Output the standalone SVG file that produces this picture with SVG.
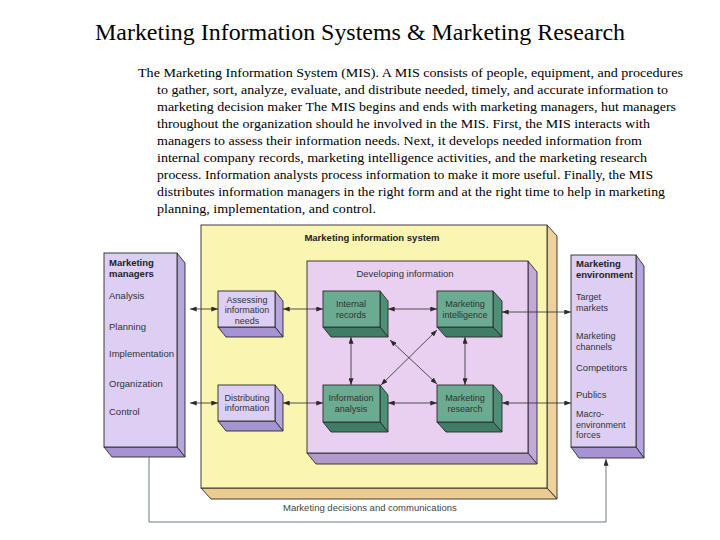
<svg xmlns="http://www.w3.org/2000/svg" width="720" height="540" viewBox="0 0 720 540">
<defs>
<style>
.title{font-family:"Liberation Sans",Arial,sans-serif}
.title{font-family:"Liberation Serif","Times New Roman",serif;font-size:23.5px;fill:#000}
.para{font-family:"Liberation Serif","Times New Roman",serif;font-size:13.3px;fill:#000}
.lbl{font-family:"Liberation Sans",Arial,sans-serif;font-size:9.5px;fill:#333}
.sm{font-size:9px}
.lblc{font-family:"Liberation Sans",Arial,sans-serif;font-size:9px;fill:#333;text-anchor:middle}
.hd{font-family:"Liberation Sans",Arial,sans-serif;font-size:9.5px;fill:#222;font-weight:bold}
.edge{stroke:#2a2a2a;stroke-width:0.9}
.conn{stroke:#2a2a2a;stroke-width:0.8;fill:none}
.lav{fill:#dccff3}.lavR{fill:#b6a5de}.lavB{fill:#a593d4}
.grn{fill:#6aab91}.grnR{fill:#4f8f77}.grnB{fill:#3f7d66}
.yel{fill:#faf6b2}.yelR{fill:#eed29a}.yelB{fill:#ebcb92}
.pnk{fill:#e9cff0}.pnkR{fill:#c3a9d9}.pnkB{fill:#b29acd}
</style>
<marker id="ah" viewBox="0 0 8 6" refX="8" refY="3" markerWidth="7" markerHeight="5" orient="auto-start-reverse" markerUnits="userSpaceOnUse">
<path d="M0,0 L8,3 L0,6 Z" fill="#2a2a2a"/>
</marker>
</defs>
<rect width="720" height="540" fill="#fff"/>

<text class="title" x="95" y="40" textLength="530" lengthAdjust="spacingAndGlyphs">Marketing Information Systems &amp; Marketing Research</text>

<g id="paragraph">
<text class="para" x="138" y="77" textLength="545" lengthAdjust="spacingAndGlyphs">The Marketing Information System (MIS). A MIS consists of people, equipment, and procedures</text>
<text class="para" x="157" y="94" textLength="511" lengthAdjust="spacingAndGlyphs">to gather, sort, analyze, evaluate, and distribute needed, timely, and accurate information to</text>
<text class="para" x="157" y="111" textLength="519" lengthAdjust="spacingAndGlyphs">marketing decision maker The MIS begins and ends with marketing managers, hut managers</text>
<text class="para" x="157" y="128" textLength="493" lengthAdjust="spacingAndGlyphs">throughout the organization should he involved in the MIS. First, the MIS interacts with</text>
<text class="para" x="157" y="145" textLength="485" lengthAdjust="spacingAndGlyphs">managers to assess their information needs. Next, it develops needed information from</text>
<text class="para" x="157" y="162" textLength="490" lengthAdjust="spacingAndGlyphs">internal company records, marketing intelligence activities, and the marketing research</text>
<text class="para" x="157" y="179" textLength="496" lengthAdjust="spacingAndGlyphs">process. Information analysts process information to make it more useful. Finally, the MIS</text>
<text class="para" x="157" y="196" textLength="508" lengthAdjust="spacingAndGlyphs">distributes information managers in the right form and at the right time to help in marketing</text>
<text class="para" x="157" y="213" textLength="219" lengthAdjust="spacingAndGlyphs">planning, implementation, and control.</text>
</g>

<g id="mis">
<polygon class="yelR edge" points="547,225 557,236 557,499 547,488"/>
<polygon class="yelB edge" points="201,488 547,488 557,499 211,499"/>
<rect class="yel edge" x="201" y="225" width="346" height="263"/>
<text class="hd" x="372" y="241" text-anchor="middle">Marketing information system</text>
</g>

<g id="developing">
<polygon class="pnkR edge" points="528,261 537,272 537,464 528,453"/>
<polygon class="pnkB edge" points="307,453 528,453 537,464 316,464"/>
<rect class="pnk edge" x="307" y="261" width="221" height="192"/>
<text class="lblc" x="405" y="277" style="font-size:9.5px">Developing information</text>
</g>

<g id="managers">
<polygon class="lavR edge" points="177,253 185,263 185,457 177,447"/>
<polygon class="lavB edge" points="104,447 177,447 185,457 112,457"/>
<rect class="lav edge" x="104" y="253" width="73" height="194"/>
<text class="hd" x="109" y="266">Marketing</text>
<text class="hd" x="109" y="277">managers</text>
<text class="lbl" x="109" y="299">Analysis</text>
<text class="lbl" x="109" y="330">Planning</text>
<text class="lbl" x="109" y="357">Implementation</text>
<text class="lbl" x="109" y="387">Organization</text>
<text class="lbl" x="109" y="415">Control</text>
</g>

<g id="environment">
<polygon class="lavR edge" points="636,255 644,266 644,458 636,447"/>
<polygon class="lavB edge" points="571,447 636,447 644,458 579,458"/>
<rect class="lav edge" x="571" y="255" width="65" height="192"/>
<text class="hd" x="576" y="267">Marketing</text>
<text class="hd" x="576" y="278">environment</text>
<text class="lbl sm" x="576" y="300">Target</text>
<text class="lbl sm" x="576" y="310.5">markets</text>
<text class="lbl sm" x="576" y="339">Marketing</text>
<text class="lbl sm" x="576" y="349.5">channels</text>
<text class="lbl" x="576" y="371">Competitors</text>
<text class="lbl" x="576" y="398">Publics</text>
<text class="lbl sm" x="576" y="417">Macro-</text>
<text class="lbl sm" x="576" y="427.5">environment</text>
<text class="lbl sm" x="576" y="438">forces</text>
</g>

<g id="assessing">
<polygon class="lavR edge" points="275,291 283,301 283,337 275,327"/>
<polygon class="lavB edge" points="218,327 275,327 283,337 226,337"/>
<rect class="lav edge" x="218" y="291" width="57" height="36"/>
<text class="lblc" x="247" y="302.5">Assessing</text>
<text class="lblc" x="247" y="313">information</text>
<text class="lblc" x="247" y="323.5">needs</text>
</g>

<g id="distributing">
<polygon class="lavR edge" points="275,385 283,395 283,431 275,421"/>
<polygon class="lavB edge" points="218,421 275,421 283,431 226,431"/>
<rect class="lav edge" x="218" y="385" width="57" height="36"/>
<text class="lblc" x="247" y="400.5">Distributing</text>
<text class="lblc" x="247" y="411">information</text>
</g>

<g id="internal">
<polygon class="grnR edge" points="380,291 388,301 388,337 380,327"/>
<polygon class="grnB edge" points="323,327 380,327 388,337 331,337"/>
<rect class="grn edge" x="323" y="291" width="57" height="36"/>
<text class="lblc" x="351" y="307">Internal</text>
<text class="lblc" x="351" y="317.5">records</text>
</g>

<g id="intelligence">
<polygon class="grnR edge" points="493,291 502,301 502,337 493,327"/>
<polygon class="grnB edge" points="437,327 493,327 502,337 446,337"/>
<rect class="grn edge" x="437" y="291" width="56" height="36"/>
<text class="lblc" x="465" y="307">Marketing</text>
<text class="lblc" x="465" y="317.5">intelligence</text>
</g>

<g id="analysis">
<polygon class="grnR edge" points="380,385 388,395 388,432 380,422"/>
<polygon class="grnB edge" points="323,422 380,422 388,432 331,432"/>
<rect class="grn edge" x="323" y="385" width="57" height="37"/>
<text class="lblc" x="351" y="401">Information</text>
<text class="lblc" x="351" y="411.5">analysis</text>
</g>

<g id="research">
<polygon class="grnR edge" points="493,385 502,395 502,432 493,422"/>
<polygon class="grnB edge" points="437,422 493,422 502,432 446,432"/>
<rect class="grn edge" x="437" y="385" width="56" height="37"/>
<text class="lblc" x="465" y="401">Marketing</text>
<text class="lblc" x="465" y="411.5">research</text>
</g>

<g id="connectors">
<line class="conn" x1="190" y1="309" x2="218" y2="309" marker-start="url(#ah)" marker-end="url(#ah)"/>
<line class="conn" x1="283" y1="309" x2="323" y2="309" marker-start="url(#ah)" marker-end="url(#ah)"/>
<line class="conn" x1="388" y1="309" x2="437" y2="309" marker-start="url(#ah)" marker-end="url(#ah)"/>
<line class="conn" x1="502" y1="312" x2="571" y2="312" marker-start="url(#ah)" marker-end="url(#ah)"/>
<line class="conn" x1="190" y1="403" x2="218" y2="403" marker-start="url(#ah)" marker-end="url(#ah)"/>
<line class="conn" x1="283" y1="403" x2="323" y2="403" marker-start="url(#ah)" marker-end="url(#ah)"/>
<line class="conn" x1="388" y1="403" x2="437" y2="403" marker-start="url(#ah)" marker-end="url(#ah)"/>
<line class="conn" x1="502" y1="403" x2="571" y2="403" marker-start="url(#ah)" marker-end="url(#ah)"/>
<line class="conn" x1="351" y1="337" x2="351" y2="385" marker-start="url(#ah)" marker-end="url(#ah)"/>
<line class="conn" x1="465" y1="337" x2="465" y2="385" marker-start="url(#ah)" marker-end="url(#ah)"/>
<line class="conn" x1="390" y1="340" x2="437" y2="384" marker-start="url(#ah)" marker-end="url(#ah)"/>
<line class="conn" x1="437" y1="330" x2="381" y2="385" marker-start="url(#ah)" marker-end="url(#ah)"/>
<polyline class="conn" points="149,457 149,522 606,522 606,459" marker-end="url(#ah)" style="stroke:#4a5a66"/>
</g>

<text class="lbl" x="283" y="511" style="fill:#444">Marketing decisions and communications</text>
</svg>
